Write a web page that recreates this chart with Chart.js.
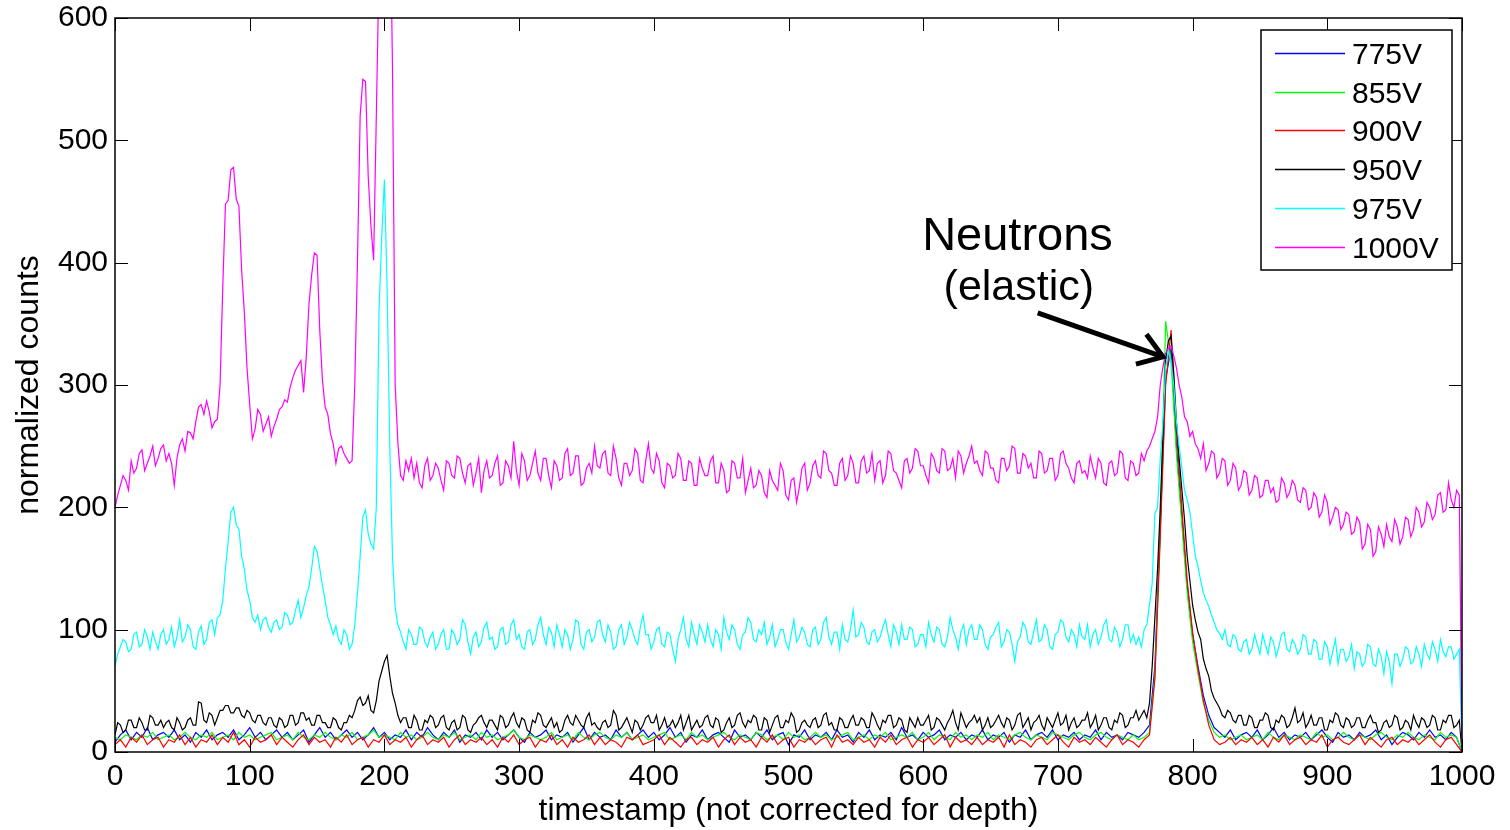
<!DOCTYPE html>
<html><head><meta charset="utf-8">
<script src="https://cdn.jsdelivr.net/npm/chart.js@4.4.1/dist/chart.umd.min.js"></script>
<style>html,body{margin:0;padding:0;background:#fff;overflow:hidden}canvas{display:block}</style>
</head><body>
<canvas id="c" width="1510" height="830"></canvas>
<script>
const seriesLabels = ['775V','855V','900V','950V','975V','1000V'];
const seriesColors = ['#0000ff','#00ff00','#ff0000','#000000','#00ffff','#ff00ff'];
const sampleSteps = [4, 4, 4, 2, 2, 2];
const xTickValues = [0,100,200,300,400,500,600,700,800,900,1000];
const xTickLabels = ['0','100','200','300','400','500','600','700','800','900','1000'];
const yTickValues = [0,100,200,300,400,500,600];
const yTickLabels = ['0','100','200','300','400','500','600'];
const xTitle = 'timestamp (not corrected for depth)';
const yTitle = 'normalized counts';
const annotationLines = ['Neutrons','(elastic)'];

const v775 = [
8,14,18,10,16,12,20,10,14,16,
12,18,10,14,8,16,12,18,10,14,
16,12,18,10,14,20,12,16,10,14,
18,12,16,10,14,18,8,14,20,12,
16,10,14,18,12,16,10,14,20,12,
16,10,14,12,18,10,16,12,20,14,
10,16,12,18,8,14,12,16,10,18,
12,16,10,14,18,12,8,16,12,14,
18,10,14,12,16,8,14,20,10,16,
12,14,10,18,12,16,10,14,18,12,
16,10,14,20,12,16,8,14,12,18,
10,14,16,12,8,18,12,14,10,16,
12,18,10,14,16,6,14,12,18,10,
14,12,16,10,18,12,14,8,16,12,
18,10,14,12,16,10,20,12,14,10,
16,12,14,18,10,14,12,16,10,14,
12,18,10,14,12,16,8,14,12,18,
10,14,16,12,18,10,14,12,16,10,
14,12,18,10,16,12,14,10,16,14,
12,16,22,70,185,305,330,250,192,136,
96,70,46,30,20,16,12,18,10,14,
16,12,18,10,14,20,12,16,10,14,
12,16,10,14,18,12,8,16,12,14,
10,16,12,14,18,10,14,6,12,16,
14,10,16,12,18,12,14,10,16,12,
0];
const v855 = [
12,10,14,12,10,14,12,16,10,12,
14,10,12,16,12,10,14,12,16,10,
12,14,10,16,12,14,10,12,14,16,
10,12,14,10,16,12,10,14,12,16,
12,10,14,12,16,10,12,14,18,12,
14,12,10,16,12,14,10,12,16,12,
10,14,12,16,10,12,14,10,16,12,
14,10,12,14,18,12,10,14,12,10,
12,16,10,12,14,10,16,12,10,14,
16,12,10,14,12,16,10,12,14,10,
12,14,16,10,12,14,10,16,12,14,
10,12,14,16,12,10,14,12,10,16,
14,10,12,14,10,16,12,14,10,12,
16,12,14,10,12,14,16,10,12,14,
10,14,12,16,10,12,14,12,16,10,
12,16,10,14,12,10,16,12,14,10,
14,12,16,10,14,12,10,14,16,12,
10,14,12,10,16,14,12,10,14,16,
12,10,14,16,12,10,14,12,10,14,
10,12,16,62,180,352,320,244,186,130,
90,64,40,26,16,12,14,10,12,14,
10,12,14,10,16,12,10,14,12,10,
14,12,10,16,12,14,10,12,16,12,
10,14,12,10,14,16,12,10,14,12,
16,12,10,14,12,10,16,12,14,12,
0];
const v900 = [
6,10,4,12,8,14,6,10,12,4,
10,8,14,6,12,4,10,8,14,6,
12,8,16,6,10,4,12,8,10,14,
6,12,8,4,10,14,6,12,8,10,
4,12,8,14,6,10,12,4,10,8,
14,6,10,8,12,4,10,14,6,10,
8,12,4,10,14,6,10,8,12,6,
10,4,12,8,14,6,10,12,4,10,
8,14,6,10,4,12,8,10,14,6,
12,6,10,8,4,12,10,14,6,8,
10,14,6,12,8,4,10,12,6,10,
8,12,4,10,14,6,12,8,10,4,
12,8,14,6,10,12,4,10,8,12,
6,10,12,4,14,8,10,6,12,8,
10,4,12,8,14,6,10,12,4,10,
8,12,6,10,14,4,12,8,10,6,
12,6,10,8,12,4,14,6,10,8,
4,10,12,6,10,14,8,4,12,8,
10,6,12,8,4,10,14,6,10,8,
4,10,14,60,176,300,345,262,200,140,
98,68,42,22,10,6,8,12,6,10,
8,12,6,10,4,12,8,14,6,10,
12,6,10,8,14,4,10,12,8,6,
10,14,6,12,8,4,10,12,6,10,
8,12,6,10,14,8,4,10,12,6,
0];
const v950 = [
14,24,22,16,18,26,26,20,20,28,24,18,18,30,28,22,22,26,20,24,
26,20,18,28,24,18,20,26,28,22,22,41,40,26,24,32,30,22,28,34,
34,38,38,32,32,36,36,30,28,34,32,26,24,30,30,24,22,28,28,22,
20,28,26,20,22,30,30,22,24,32,32,26,28,22,22,30,30,24,24,20,
20,28,26,20,18,24,24,30,28,34,42,45,38,40,46,34,32,42,58,66,
74,79,62,48,40,30,24,28,28,20,20,30,26,18,18,26,24,30,28,20,
22,28,30,20,18,24,26,18,20,30,28,18,16,22,24,28,30,24,20,26,
26,22,18,30,28,20,22,28,32,24,20,28,26,18,16,26,24,32,30,22,
20,24,28,20,24,16,18,26,30,24,22,30,26,22,20,28,32,22,24,20,
18,24,26,20,22,34,30,18,20,24,28,22,16,26,24,18,22,28,30,24,
24,30,18,22,28,20,22,26,20,24,30,18,24,30,18,22,26,20,22,28,
30,22,20,28,26,16,18,24,28,20,22,30,32,24,20,26,24,30,28,18,
18,28,26,16,22,28,30,20,20,26,24,32,28,16,18,24,26,22,20,26,
28,20,22,30,32,22,24,18,18,28,26,20,20,26,30,22,22,28,26,20,
20,32,28,22,18,26,24,30,30,20,22,28,26,18,16,28,24,20,28,22,
22,26,30,18,20,28,26,22,18,24,28,34,24,18,32,26,20,24,26,30,
24,28,18,22,28,20,22,26,30,24,20,28,26,18,22,30,32,20,24,28,
18,24,26,30,22,18,28,24,20,26,32,22,24,30,18,24,28,20,22,26,
26,32,20,24,30,18,22,28,28,20,18,26,24,32,30,20,22,28,28,34,
26,30,34,28,40,70,110,150,200,260,320,336,340,310,270,240,215,190,160,140,
120,108,98,92,76,68,62,50,44,40,36,30,28,34,32,26,24,30,30,22,
22,30,28,20,20,26,26,32,30,20,18,26,24,30,28,20,22,28,36,24,
26,32,20,24,30,22,22,28,28,18,18,26,24,32,30,22,20,28,26,20,
22,28,28,20,20,26,30,24,24,16,18,24,26,20,22,30,28,18,20,26,
24,18,30,24,20,28,26,20,22,30,28,18,18,26,24,30,30,20,22,26,
0];
const v975 = [
70,80,86,92,90,82,84,96,98,86,88,100,94,84,98,90,84,96,100,88,
92,102,86,94,108,90,94,104,100,86,84,98,103,88,92,106,108,96,110,112,
124,150,172,196,200,186,182,160,150,132,124,110,106,112,100,108,110,102,98,106,
108,100,102,114,112,104,106,116,124,110,118,128,135,150,168,164,150,136,124,110,
104,96,103,92,88,100,96,84,88,104,130,160,192,198,178,170,166,200,360,420,
468,380,250,160,118,104,98,90,84,100,96,88,88,102,100,90,86,94,98,84,
88,96,100,84,84,100,96,88,92,108,104,90,80,94,98,86,90,102,106,92,
94,84,86,100,102,88,90,104,108,92,96,86,84,98,100,88,92,104,110,96,
88,102,98,86,104,96,86,100,96,84,92,108,106,88,84,98,100,90,94,106,
108,96,90,104,98,84,86,100,104,88,94,106,100,92,88,102,112,96,96,84,
90,100,102,88,86,98,96,84,74,92,100,110,92,86,106,96,88,104,98,90,
104,92,86,100,96,84,110,98,92,104,100,88,84,96,98,110,106,92,90,100,
96,106,88,94,104,86,92,100,100,90,84,96,108,90,94,102,98,88,86,100,
102,88,92,106,110,94,88,98,98,84,104,92,90,100,116,94,96,106,102,90,
88,98,100,90,94,102,108,96,86,104,98,88,104,92,92,102,100,86,88,96,
96,86,106,96,90,102,100,88,86,94,110,100,94,84,98,104,88,100,104,92,
92,104,100,88,84,94,96,102,106,86,90,100,98,88,74,90,94,106,102,90,
88,98,108,90,92,104,100,86,84,96,98,108,106,94,90,100,96,86,104,94,
92,104,86,96,100,88,94,104,108,92,90,102,98,86,92,104,104,90,96,88,
94,86,100,104,120,138,195,200,240,270,315,328,318,300,270,250,232,214,206,196,
178,160,152,140,130,124,119,112,106,100,97,92,100,88,86,96,94,84,82,90,
92,80,84,96,88,80,96,88,80,94,90,78,86,96,98,84,82,92,88,80,
84,96,94,80,80,92,90,76,76,90,86,72,82,92,72,84,84,74,78,88,
68,82,80,70,74,88,86,72,70,84,78,64,82,74,56,80,80,70,76,86,
84,72,74,86,80,70,88,80,76,90,84,74,92,82,78,86,86,76,80,84,
0];
const v1000 = [
200,210,218,226,222,214,238,228,232,244,247,230,236,242,250,234,240,248,251,238,
244,236,218,240,251,256,246,262,261,256,270,282,284,276,287,278,265,270,272,300,
380,448,451,476,478,452,446,394,360,314,284,256,264,280,276,262,268,274,258,266,
272,280,282,288,286,298,306,312,316,320,294,323,366,390,408,406,345,304,282,276,
260,252,236,248,250,244,240,236,238,300,400,520,550,548,470,430,402,520,640,700,
720,730,710,560,300,253,226,222,238,230,240,224,236,220,216,234,240,222,226,236,
232,222,214,238,236,226,224,242,240,228,220,234,236,218,228,240,212,230,238,224,
226,236,242,218,220,238,234,224,254,230,218,244,238,222,226,236,246,228,222,240,
240,226,216,238,234,222,224,244,248,226,228,242,242,218,220,232,236,228,250,234,
232,244,246,228,226,250,240,224,218,236,236,226,230,248,244,222,220,238,252,232,
228,244,238,220,216,236,234,224,226,244,240,222,222,238,236,218,218,240,232,226,
226,238,242,220,220,236,230,212,214,238,236,224,224,240,212,222,232,216,218,230,
226,212,208,230,222,218,214,236,230,210,206,222,224,204,216,232,236,214,220,234,
238,226,224,246,244,230,228,218,218,236,240,222,226,242,236,220,220,238,242,228,
230,244,222,236,238,220,226,246,244,230,228,222,216,238,240,228,232,248,246,234,
234,226,220,244,240,230,228,248,246,230,232,240,224,246,242,228,236,242,250,236,
238,230,226,246,244,232,232,222,220,240,240,230,234,250,248,228,228,244,242,232,
236,224,224,246,244,228,230,240,240,222,226,244,246,236,232,224,220,236,238,228,
230,224,242,232,224,240,236,220,218,236,238,226,228,246,244,224,222,238,236,226,
228,244,238,246,250,256,262,274,300,315,326,330,332,324,314,300,290,274,270,258,
262,252,248,240,252,230,236,246,244,224,228,240,238,218,222,236,232,214,218,230,
228,210,214,226,224,208,210,222,222,212,216,204,206,224,220,208,212,222,218,206,
204,216,214,198,200,212,208,192,196,210,204,186,192,200,198,182,186,196,194,178,
180,192,188,166,170,186,182,160,164,184,178,168,186,176,172,190,184,170,176,192,
190,176,182,200,196,184,188,204,200,190,194,210,212,196,198,220,206,200,214,210,
0];

const seriesValues = [v775, v855, v900, v950, v975, v1000];
const FONT = "'Liberation Sans', Arial, Helvetica, sans-serif";
Chart.defaults.font.family = FONT;
Chart.defaults.color = '#000';

const datasets = seriesValues.map((vals, i) => ({
  label: seriesLabels[i],
  data: vals.map((v, k) => ({x: k * sampleSteps[i], y: v})),
  borderColor: seriesColors[i],
  backgroundColor: seriesColors[i],
  borderWidth: 1.2,
  pointRadius: 0,
  tension: 0,
  fill: false,
  order: seriesValues.length - 1 - i
}));

const frame = {
  id: 'frame',
  afterDraw(chart) {
    const {ctx, chartArea: a, scales: {x, y}} = chart;
    ctx.save();
    const T = 13;
    ctx.strokeStyle = '#000';
    ctx.lineWidth = 1;
    ctx.beginPath();
    xTickValues.forEach(v => {
      const px = Math.round(x.getPixelForValue(v)) + 0.5;
      ctx.moveTo(px, a.bottom); ctx.lineTo(px, a.bottom - T);
      ctx.moveTo(px, a.top); ctx.lineTo(px, a.top + T);
    });
    yTickValues.forEach(v => {
      const py = Math.round(y.getPixelForValue(v)) + 0.5;
      ctx.moveTo(a.left, py); ctx.lineTo(a.left + T, py);
      ctx.moveTo(a.right, py); ctx.lineTo(a.right - T, py);
    });
    ctx.stroke();
    ctx.lineWidth = 1.5;
    ctx.strokeRect(a.left, a.top, a.right - a.left, a.bottom - a.top);

    // legend
    const bw = 191, bh = 240;
    const bx = a.right - 10 - bw, by = a.top + 12;
    ctx.fillStyle = '#fff';
    ctx.fillRect(bx, by, bw, bh);
    ctx.lineWidth = 1.5;
    ctx.strokeStyle = '#000';
    ctx.strokeRect(bx, by, bw, bh);
    ctx.font = '30px ' + FONT;
    ctx.textAlign = 'left';
    ctx.textBaseline = 'alphabetic';
    chart.data.datasets.forEach((ds, i) => {
      const cy = Math.round(by + 22.7 + i * 38.8);
      ctx.beginPath();
      ctx.strokeStyle = ds.borderColor;
      ctx.lineWidth = 1.5;
      ctx.moveTo(bx + 14, cy + 0.5); ctx.lineTo(bx + 84, cy + 0.5);
      ctx.stroke();
      ctx.fillStyle = '#000';
      ctx.fillText(ds.label, bx + 91, cy + 11);
    });

    // annotation
    ctx.fillStyle = '#000';
    ctx.textAlign = 'center';
    ctx.font = '47px ' + FONT;
    ctx.fillText(annotationLines[0], x.getPixelForValue(670), y.getPixelForValue(410));
    ctx.font = '43px ' + FONT;
    ctx.fillText(annotationLines[1], x.getPixelForValue(671), y.getPixelForValue(369.5));
    const tx = x.getPixelForValue(685), ty = y.getPixelForValue(359);
    const hx = x.getPixelForValue(778), hy = y.getPixelForValue(323);
    const ang = Math.atan2(hy - ty, hx - tx);
    ctx.strokeStyle = '#000';
    ctx.lineWidth = 5;
    ctx.lineCap = 'butt';
    ctx.lineJoin = 'miter';
    ctx.beginPath();
    ctx.moveTo(tx, ty); ctx.lineTo(hx - 3 * Math.cos(ang), hy - 3 * Math.sin(ang));
    ctx.stroke();
    const L = 28, w = 0.6;
    ctx.beginPath();
    ctx.moveTo(hx - L * Math.cos(ang - w), hy - L * Math.sin(ang - w));
    ctx.lineTo(hx, hy);
    ctx.lineTo(hx - L * Math.cos(ang + w), hy - L * Math.sin(ang + w));
    ctx.stroke();
    ctx.restore();
  }
};

new Chart(document.getElementById('c'), {
  type: 'line',
  data: {datasets},
  options: {
    responsive: false,
    animation: false,
    devicePixelRatio: 1,
    events: [],
    layout: {padding: {left: 0, right: 48, top: 18, bottom: 0}},
    plugins: {legend: {display: false}, tooltip: {enabled: false}},
    scales: {
      x: {
        type: 'linear', min: 0, max: 1000,
        grid: {display: false, drawTicks: false},
        border: {display: false},
        afterBuildTicks: s => { s.ticks = xTickValues.map(v => ({value: v})); },
        afterFit: s => { s.height = 78; s.paddingLeft = 0; s.paddingRight = 0; },
        ticks: {
          font: {size: 30}, color: '#000', padding: 7, maxRotation: 0, autoSkip: false,
          callback: v => xTickLabels[xTickValues.indexOf(v)] ?? ''
        },
        title: {display: true, text: xTitle, font: {size: 32}, color: '#000', padding: {top: 0, bottom: 0}}
      },
      y: {
        type: 'linear', min: 0, max: 600,
        grid: {display: false, drawTicks: false},
        border: {display: false},
        afterBuildTicks: s => { s.ticks = yTickValues.map(v => ({value: v})); },
        afterFit: s => { s.width = 115; s.paddingTop = 0; s.paddingBottom = 0; },
        ticks: {
          font: {size: 30}, color: '#000', padding: 7,
          callback: v => yTickLabels[yTickValues.indexOf(v)] ?? ''
        },
        title: {display: true, text: yTitle, font: {size: 32}, color: '#000', padding: {top: 10, bottom: 0}}
      }
    }
  },
  plugins: [frame]
});
</script>
</body></html>
